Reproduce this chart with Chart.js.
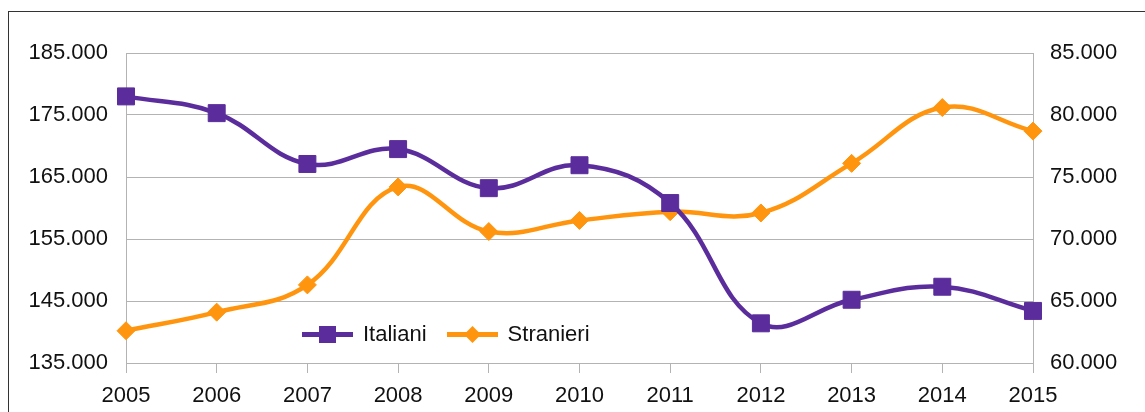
<!DOCTYPE html>
<html>
<head>
<meta charset="utf-8">
<script src="https://cdn.jsdelivr.net/npm/chart.js@4/dist/chart.umd.min.js"></script>
<style>
  html, body { margin: 0; padding: 0; background: #fff; }
  #wrap { position: relative; width: 1145px; height: 412px; overflow: hidden; }
  #frame { position: absolute; left: 8px; top: 11px; width: 1200px; height: 500px;
           border-left: 1.5px solid #333; border-top: 1.5px solid #333; }
  canvas { position: absolute; left: 0; top: 0; }
  #legend { position: absolute; top: 321px; left: 302px; font: 22px "Liberation Sans", Arial, sans-serif;
            color: #111; display: flex; align-items: center; }
  #legend span.item { display: flex; align-items: center; margin-right: 20px; }
  #legend svg { margin-right: 10px; }
</style>
</head>
<body>
<div id="wrap">
  <div id="frame"></div>
  <canvas id="grafico" width="1145" height="412"></canvas>
  <div id="legend"></div>
</div>
<script>
// Datos
const anni = ['2005', '2006', '2007', '2008', '2009', '2010', '2011', '2012', '2013', '2014', '2015'];
const italiani = [178000, 175300, 167100, 169500, 163200, 166900, 160800, 141400, 145200, 147300, 143400];
const stranieri = [62600, 64100, 66300, 74200, 70600, 71500, 72200, 72100, 76100, 80600, 78700];

const viola = '#5b2d9c';
const arancio = '#ff950e';
const font = { family: '"Liberation Sans", Arial, sans-serif', size: 22 };

// 185000 -> "185.000"
function formatta(v) {
  return String(Math.round(v)).replace(/\B(?=(\d{3})+(?!\d))/g, '.');
}

const ctx = document.getElementById('grafico').getContext('2d');
const grafico = new Chart(ctx, {
  type: 'line',
  data: {
    labels: anni,
    datasets: [{
      label: 'Italiani',
      data: italiani,
      yAxisID: 'y',
      borderColor: viola,
      backgroundColor: viola,
      borderWidth: 4.5,
      pointStyle: 'rect',
      pointRadius: 12,
      pointBorderWidth: 1,
      tension: 0.4
    }, {
      label: 'Stranieri',
      data: stranieri,
      yAxisID: 'y2',
      borderColor: arancio,
      backgroundColor: arancio,
      borderWidth: 4.5,
      pointStyle: 'rectRot',
      pointRadius: 9,
      pointBorderWidth: 1,
      tension: 0.4
    }]
  },
  options: {
    responsive: false,
    animation: false,
    layout: { padding: { top: 53, left: 0, right: 0, bottom: 0 } },
    scales: {
      x: {
        ticks: { font: font, color: '#111', padding: 10, maxRotation: 0 },
        grid: { drawOnChartArea: false, drawTicks: true, tickLength: 10, color: '#b3b3b3' },
        border: { display: false },
        afterFit: (s) => { s.height = 49; }
      },
      y: {
        position: 'left',
        min: 135000, max: 185000,
        ticks: { stepSize: 10000, font: font, color: '#111', padding: 18, callback: formatta },
        grid: { color: '#b3b3b3', drawTicks: false },
        border: { color: '#b3b3b3' },
        afterFit: (s) => { s.width = 126; }
      },
      y2: {
        position: 'right',
        min: 60000, max: 85000,
        ticks: { stepSize: 5000, font: font, color: '#111', padding: 17, callback: formatta },
        grid: { drawOnChartArea: false, drawTicks: false },
        border: { color: '#b3b3b3' },
        afterFit: (s) => { s.width = 112; }
      }
    },
    plugins: {
      legend: { display: false },
      tooltip: { enabled: false }
    }
  }
});

// Legenda dentro il grafico
function voce(nome, colore, forma) {
  const marker = forma === 'quadro'
    ? '<rect x="17" y="3" width="17" height="17" fill="' + colore + '"/>'
    : '<polygon points="25.5,3 34,11.5 25.5,20 17,11.5" fill="' + colore + '"/>';
  return '<span class="item"><svg width="51" height="23"><line x1="0" y1="11.5" x2="51" y2="11.5" stroke="' +
    colore + '" stroke-width="5"/>' + marker + '</svg>' + nome + '</span>';
}
document.getElementById('legend').innerHTML =
  voce('Italiani', viola, 'quadro') + voce('Stranieri', arancio, 'rombo');
</script>
</body>
</html>
